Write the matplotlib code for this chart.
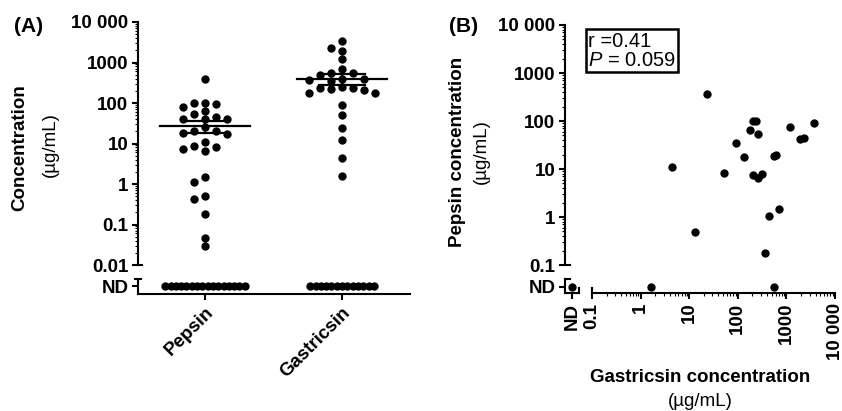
import numpy as np
import matplotlib
matplotlib.use('Agg')
import matplotlib.pyplot as plt
from matplotlib.transforms import blended_transform_factory

plt.rcParams['font.family'] = ['Liberation Sans', 'DejaVu Sans']
plt.rcParams['mathtext.fontset'] = 'custom'
plt.rcParams['mathtext.rm'] = 'Liberation Sans'
plt.rcParams['mathtext.it'] = 'Liberation Sans:italic'

# -------------------------------
# Data
# -------------------------------
groups = ['Pepsin', 'Gastricsin']
pepsin_vals = [400, 100, 80, 95, 100, 65, 55, 25, 40, 40, 45, 40,
               20, 17, 18, 20, 8.5, 7.5, 6.5, 8, 11, 1.5, 1.1,
               0.5, 0.42, 0.18, 0.046, 0.029]
pepsin_nd = 16
gastricsin_vals = [3400, 2300, 1900, 1200, 700, 550, 500, 560, 350, 380,
                   400, 390, 230, 220, 250, 240, 210, 180, 175, 90,
                   50, 24, 12, 4.4, 1.6]
gastricsin_nd = 13
centre_vals = [27, 390]
err_low = [18, 280]
err_high = [36, 520]

# panel B pairs (gastricsin, pepsin); None = ND
gast_b = [23, 4.5, 53, 91, 133, 180, 210, 240, 256, 210, 255, 315, 550, 620,
          690, 1200, 1870, 2330, 3630, 430, 13, 355, None, 1.6, 560]
peps_b = [365, 10.8, 8.1, 35, 17.5, 65, 100, 100, 54, 7.5, 6.6, 7.7, 19, 19.5,
          1.5, 76, 42, 45, 92, 1.05, 0.48, 0.175, None, None, None]
r_text = 'r =0.41'
p_text = '$\\it{P}$ = 0.059'

W, H = 842, 411
fig = plt.figure(figsize=(W / 100, H / 100), dpi=100)


def fig_axes(x0, y0, x1, y1):
    return fig.add_axes([x0 / W, 1 - y1 / H, (x1 - x0) / W, (y1 - y0) / H])


def ftext(x, y, s, **kw):
    fig.text(x / W, 1 - y / H, s, ha='center', va='center', **kw)


def minor_list(lo, hi):
    out = []
    for k in range(lo, hi):
        out += [m * 10.0 ** k for m in range(2, 10)]
    return out


def swarm(values, centre, slot, diam, px_dec):
    y = np.log10(values) * px_dec
    order = np.argsort(-np.asarray(values))
    xs = np.zeros(len(values))
    placed = []
    for i in order:
        for k in [0, -1, 1, -2, 2, -3, 3, -4, 4]:
            if all(not (kk == k and abs(yy - y[i]) < diam) for kk, yy in placed):
                placed.append((k, y[i]))
                xs[i] = centre + k * slot
                break
    return xs


tick_fs = 13.5
lab_fs = 13.5
lw = 1.5
dot_s = 36

# -------------------------------
# Panel A
# -------------------------------
axA = fig_axes(138, 22, 410, 294)
axA.set_yscale('log')
ya_bot, ya_nd, ya_cap = 10 ** -2.716, 10 ** -2.52, 10 ** -2.346
axA.set_ylim(ya_bot, 1e4)
axA.set_xlim(-0.489, 1.496)
px_unit = 137.0
px_dec_a = 40.5

for i, (vals, n_nd) in enumerate([(pepsin_vals, pepsin_nd), (gastricsin_vals, gastricsin_nd)]):
    xs = swarm(vals, i, 11 / px_unit, 7.5, px_dec_a)
    axA.scatter(xs, vals, s=dot_s, color='black', zorder=3, clip_on=False, linewidths=0)
    xnd = i + (np.arange(n_nd) - (n_nd - 1) / 2) * 5.3 / px_unit
    axA.scatter(xnd, [ya_nd] * n_nd, s=dot_s, color='black', zorder=3, clip_on=False, linewidths=0)
    axA.plot([i - 0.33, i + 0.33], [centre_vals[i]] * 2, color='black', lw=1.6, zorder=4)
    for v in (err_low[i], err_high[i]):
        axA.plot([i - 0.165, i + 0.165], [v, v], color='black', lw=1.6, zorder=4)
    axA.plot([i, i], [err_low[i], err_high[i]], color='black', lw=1.6, zorder=4)

axA.spines['top'].set_visible(False)
axA.spines['right'].set_visible(False)
for s in ('left', 'bottom'):
    axA.spines[s].set_linewidth(lw)
axA.spines['left'].set_bounds(0.01, 1e4)
axA.set_yticks([ya_nd, 0.01, 0.1, 1, 10, 100, 1000, 10000])
axA.set_yticklabels(['ND', '0.01', '0.1', '1', '10', '100', '1000', '10 000'],
                    fontweight='bold', fontsize=tick_fs)
axA.set_yticks(minor_list(-2, 4), minor=True)
axA.set_yticklabels([], minor=True)
axA.set_xticks([0, 1])
axA.set_xticklabels(groups, rotation=45, ha='right', rotation_mode='anchor',
                    fontweight='bold', fontsize=tick_fs)
axA.tick_params(which='major', length=4, width=lw, pad=3)
axA.tick_params(which='minor', length=2, width=0.8)

trA = blended_transform_factory(axA.transAxes, axA.transData)
axA.plot([0, 0], [ya_bot, ya_cap], color='black', lw=lw, transform=trA, clip_on=False)
axA.plot([-0.012, 0.012], [ya_cap, ya_cap], color='black', lw=lw, transform=trA, clip_on=False)
axA.plot([0, 0.015], [0.01, 0.01], color='black', lw=lw, transform=trA, clip_on=False)

# -------------------------------
# Panel B
# -------------------------------
axB = fig_axes(565, 25, 835, 293)
axB.set_xscale('log')
axB.set_yscale('log')
yb_bot, yb_nd, yb_cap = 10 ** -1.583, 10 ** -1.458, 10 ** -1.29
xb_left, xb_nd, xb_cap = 10 ** -1.556, 10 ** -1.41, 10 ** -1.27
axB.set_ylim(yb_bot, 1e4)
axB.set_xlim(xb_left, 1e4)

gx = [xb_nd if g is None else g for g in gast_b]
py = [yb_nd if p is None else p for p in peps_b]
axB.scatter(gx, py, s=dot_s, color='black', zorder=3, clip_on=False, linewidths=0)

axB.spines['top'].set_visible(False)
axB.spines['right'].set_visible(False)
for s in ('left', 'bottom'):
    axB.spines[s].set_linewidth(lw)
axB.spines['left'].set_bounds(0.1, 1e4)
axB.spines['bottom'].set_bounds(0.1, 1e4)
axB.set_yticks([yb_nd, 0.1, 1, 10, 100, 1000, 10000])
axB.set_yticklabels(['ND', '0.1', '1', '10', '100', '1000', '10 000'],
                    fontweight='bold', fontsize=tick_fs)
axB.set_xticks([xb_nd, 0.1, 1, 10, 100, 1000, 10000])
axB.set_xticklabels(['ND', '0.1', '1', '10', '100', '1000', '10 000'], rotation=90,
                    fontweight='bold', fontsize=tick_fs)
axB.set_yticks(minor_list(-1, 4), minor=True)
axB.set_xticks(minor_list(-1, 4), minor=True)
axB.set_yticklabels([], minor=True)
axB.set_xticklabels([], minor=True)
axB.tick_params(which='major', length=4, width=lw, pad=3)
axB.tick_params(which='minor', length=2, width=0.8)

trBy = blended_transform_factory(axB.transAxes, axB.transData)
trBx = blended_transform_factory(axB.transData, axB.transAxes)
axB.plot([0, 0], [yb_bot, yb_cap], color='black', lw=lw, transform=trBy, clip_on=False)
axB.plot([0, 0.02], [yb_cap, yb_cap], color='black', lw=lw, transform=trBy, clip_on=False)
axB.plot([0, 0.02], [0.1, 0.1], color='black', lw=lw, transform=trBy, clip_on=False)
axB.plot([xb_left, xb_cap], [0, 0], color='black', lw=lw, transform=trBx, clip_on=False)
axB.plot([xb_cap, xb_cap], [0, 0.02], color='black', lw=lw, transform=trBx, clip_on=False)
axB.plot([0.1, 0.1], [0, 0.02], color='black', lw=lw, transform=trBx, clip_on=False)

axB.text(0.085, 0.975, r_text + '\n' + p_text, transform=axB.transAxes, ha='left', va='top',
         fontsize=14.5, linespacing=1.0,
         bbox=dict(boxstyle='square,pad=0.12', fc='white', ec='black', lw=1.8))

# -------------------------------
# Labels
# -------------------------------
ftext(29, 27, '(A)', fontsize=15, fontweight='bold')
ftext(464, 27, '(B)', fontsize=15, fontweight='bold')
ftext(20, 148, 'Concentration', fontsize=lab_fs, fontweight='bold', rotation=90)
ftext(50, 145, '(µg/mL)', fontsize=lab_fs, rotation=90)
ftext(457, 152, 'Pepsin concentration', fontsize=lab_fs, fontweight='bold', rotation=90)
ftext(481, 152, '(µg/mL)', fontsize=lab_fs, rotation=90)
ftext(700, 377, 'Gastricsin concentration', fontsize=lab_fs, fontweight='bold')
ftext(700, 401, '(µg/mL)', fontsize=lab_fs)

fig.savefig('out.png', dpi=100)
